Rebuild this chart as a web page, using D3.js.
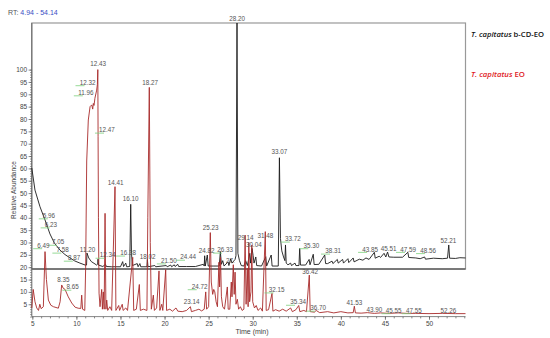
<!DOCTYPE html>
<html>
<head>
<meta charset="utf-8">
<script src="https://cdn.jsdelivr.net/npm/d3@7"></script>
<style>
  body { margin: 0; background: #fff; }
  svg text { font-family: "Liberation Sans", Arial, sans-serif; }
</style>
</head>
<body>
<svg class="chart" width="550" height="338"></svg>
<script>
// chromatogram traces, retention time (min) and relative abundance (%)
var blackTime = [4.94, 5.3, 5.87, 6.44, 7.0, 7.5, 8.14, 8.7, 9.28, 9.8, 10.4, 11.0, 11.15, 11.2, 11.4, 11.7, 12.3,
    12.42, 12.45, 12.5, 13.0, 13.3, 13.4, 14.0, 15.0, 15.25, 15.35, 15.6, 15.7, 16.05, 16.16, 16.25, 16.35,
    16.9, 17.0, 17.2, 17.3, 18.0, 18.05, 18.12, 18.9, 19.0, 20.2, 20.3, 20.7, 20.8, 21.1, 21.2, 21.5, 21.6,
    22.5, 23.5, 24.4, 24.5, 24.55, 24.62, 24.85, 24.95, 25.6, 26.2, 26.33, 26.45, 26.6, 26.75, 27.2, 27.3,
    27.5, 27.65, 28.0, 28.1, 28.22, 28.32, 28.5, 28.7, 29.0, 29.2, 29.4, 29.67, 29.75, 29.92, 30.05, 30.15,
    30.35, 30.45, 31.0, 31.48, 31.58, 32.1, 32.2, 32.9, 33.03, 33.15, 33.3, 33.5, 33.65, 33.72, 33.8, 34.0,
    34.3, 34.4, 34.8, 34.9, 35.25, 35.33, 35.42, 36.0, 36.4, 36.5, 36.87, 36.97, 37.5, 38.17, 38.27, 38.5,
    39.0, 39.1, 39.6, 39.7, 40.2, 40.3, 40.8, 40.9, 41.4, 41.5, 42.1, 42.5, 42.85, 43.2, 43.8, 43.9, 44.35,
    44.5, 44.9, 45.1, 45.3, 45.45, 46.0, 47.0, 47.6, 47.7, 48.5, 49.0, 49.5, 49.6, 50.5, 51.5, 52.1, 52.24,
    52.34, 53.0, 53.5, 54.14];
var blackAbund = [40.8, 31.8, 25.0, 19.6, 13.9, 10.2, 7.3, 5.5, 4.1, 2.9, 2.0, 1.2, 1.2, 6.1, 4.1, 2.6, 1.2,
    1.6, 3.6, 1.2, 0.6, 1.5, 0.6, 0.5, 0.5, 2.6, 0.6, 2.0, 0.5, 0.6, 26, 6, 1.0,
    1.8, 0.5, 1.8, 0.5, 0.5, 3.5, 0.5, 1.0, 0.5, 1.0, 0.5, 1.2, 0.5, 1.3, 0.6, 1.5, 0.6,
    0.6, 0.6, 1.5, 0.8, 5, 0.8, 5.3, 0.8, 0.8, 0.8, 6.7, 1.5, 3, 0.8, 2.5, 1.0,
    3.7, 2, 3.5, 5, 100, 6, 3, 1, 0.8, 3, 1, 6, 2, 8, 5, 2,
    4.5, 1, 0.8, 4.6, 0.8, 5.3, 0.8, 0.8, 45, 12, 7, 4.5, 3, 9.4, 2, 1.3,
    2, 1, 2, 1, 1, 8, 1.2, 1.2, 3.5, 1.3, 5.6, 1.4, 1.5, 5.3, 1.8, 1.8,
    2.8, 1.8, 3.5, 2, 3.5, 2, 3.8, 2.2, 4.1, 2.5, 3.6, 3.2, 4.1, 3.5, 6.4, 4, 4.8,
    4.3, 6, 4.5, 6.5, 4.5, 4.4, 4.4, 6.4, 4.3, 4.1, 3.8, 4.5, 3.6, 4, 3.8, 4.0, 9.4,
    4, 3.9, 4.2, 4.1];

var redTime = [4.94, 5.1, 5.3, 5.5, 5.7, 5.85, 6.0, 6.25, 6.44, 6.6, 6.82, 7.1, 7.4, 7.95, 8.15, 8.33, 8.5,
    8.71, 9.08, 9.47, 9.85, 10.2, 10.5, 10.6, 10.7, 10.95, 11.05, 11.17, 11.35, 11.55, 11.74, 11.85, 11.92,
    12.0, 12.1, 12.3, 12.38, 12.43, 12.46, 12.5, 12.57, 12.68, 12.87, 12.95, 13.05, 13.15, 13.25, 13.35,
    13.44, 13.55, 13.8, 14.0, 14.38, 14.48, 14.8, 14.9, 15.2, 15.3, 15.6, 15.8, 16.39, 16.5, 16.8, 17.14,
    17.25, 17.6, 18.0, 18.1, 18.27, 18.38, 18.5, 18.73, 18.85, 19.1, 19.37, 19.47, 19.68, 19.8, 20.13, 20.23,
    20.6, 20.9, 21.3, 21.5, 22.0, 22.5, 22.93, 23.05, 23.5, 23.9, 24.2, 24.5, 24.67, 24.77, 25.0, 25.19, 25.3,
    25.46, 25.58, 25.7, 25.85, 26.0, 26.17, 26.25, 26.35, 26.45, 26.6, 26.8, 27.12, 27.22, 27.4, 27.57,
    27.65, 27.8, 27.9, 28.0, 28.1, 28.26, 28.4, 28.6, 28.8, 29.0, 29.14, 29.25, 29.39, 29.48, 29.56, 29.65,
    29.8, 29.9, 30.0, 30.2, 30.4, 30.6, 30.9, 31.1, 31.43, 31.53, 31.8, 32.19, 32.29, 32.6, 33.0, 33.4, 33.8,
    34.3, 34.5, 34.9, 35.22, 35.35, 35.8, 36.1, 36.42, 36.52, 37.0, 37.2, 37.6, 38.5, 39.2, 40.0, 40.8, 41.4,
    41.53, 41.65, 42.3, 43.0, 43.8, 44.5, 45.5, 46.5, 47.5, 48.5, 50.0, 51.5, 53.0, 54.14];
var redAbund = [3.5, 11, 6, 3.5, 2.5, 5, 3.2, 4, 26.3, 15, 6.7, 4.6, 4.0, 3.4, 6, 12.8, 11.5,
    11, 8, 5.5, 3.8, 3.4, 3.3, 8.7, 3, 2.5, 20, 63, 79.6, 85, 85.7, 84, 86.3,
    85.5, 88.4, 91.7, 94, 100, 73, 40, 9.5, 4, 11, 3, 10, 3, 41.8, 3,
    6.7, 2.5, 4, 2.5, 52.6, 2.5, 4.5, 2.5, 5, 2.5, 3.5, 2.5, 24, 2.5, 3, 13,
    2.5, 3, 2.5, 40, 92.8, 30, 3, 8.7, 2.5, 3.5, 18.5, 2.5, 5, 2.5, 19, 2.5,
    3, 2.2, 3.5, 2.2, 2, 2.5, 4, 2, 2.5, 3, 2.3, 3, 10, 3, 4, 34, 14,
    9, 11, 10, 6, 4, 22, 12, 24, 8, 4, 3, 12, 3, 3, 14,
    8, 21, 9, 18, 5, 7, 3, 4, 2.5, 3, 33, 5, 19.6, 4, 30, 6,
    10, 29, 6, 3.5, 4.5, 2.5, 3.5, 2.2, 34.4, 2.5, 2.8, 9.4, 2.2, 2.8, 2.2, 3, 2.2,
    3.5, 2, 2.8, 4.5, 2, 2.5, 2, 16.8, 2, 1.8, 2.5, 1.6, 2, 1.5, 2, 1.5, 1.6,
    4.2, 1.5, 1.4, 1.6, 1.3, 1.5, 1.3, 1.5, 1.3, 1.3, 1.2, 1.3, 1.2, 1.2];

// peak annotations: [text, label centre time, label height, leader line]
var blackLabels = [
    ['28.20', 28.22, 101.6, 0], ['5.96', 6.89, 21.3, 1], ['6.23', 7.10, 17.6, 1], ['7.05', 7.92, 10.5, 1],
    ['7.58', 8.43, 7.3, 1], ['8.87', 9.73, 4.0, 1], ['11.20', 11.26, 7.3, 0], ['12.34', 13.53, 5.2, 1],
    ['16.10', 16.16, 28.2, 0], ['16.38', 15.86, 6.1, 1], ['18.02', 18.07, 4.6, 0], ['21.50', 20.49, 2.9, 1],
    ['24.44', 22.66, 4.4, 1], ['24.82', 24.78, 6.9, 0], ['26.33', 26.86, 7.3, 1], ['27.', 27.48, 3.0, 0],
    ['29.14', 29.19, 12.4, 0], ['30.04', 30.12, 9.4, 0], ['31.48', 31.45, 13.1, 0], ['33.07', 33.02, 47.5, 0],
    ['33.72', 34.55, 11.8, 1], ['35.30', 36.65, 9.1, 1], ['38.31', 39.11, 6.9, 1], ['43.85', 43.31, 7.6, 1],
    ['45.51', 45.41, 8.0, 0], ['47.59', 47.62, 7.6, 1], ['48.56', 49.89, 7.1, 1], ['52.21', 52.21, 11.1, 0]
];
var redLabels = [
    ['12.43', 12.45, 102.3, 0], ['12.32', 11.26, 94.7, 1], ['11.96', 11.07, 90.6, 1], ['18.27', 18.35, 94.7, 0],
    ['12.47', 13.47, 75.5, 1], ['14.41', 14.46, 54.2, 0], ['6.49', 6.25, 28.7, 1], ['8.35', 8.52, 14.8, 0],
    ['8.65', 9.56, 11.9, 1], ['23.14', 23.08, 5.8, 0], ['24.72', 23.99, 12.1, 1], ['25.23', 25.22, 36.0, 0],
    ['32.15', 32.70, 10.8, 1], ['35.34', 35.14, 5.8, 1], ['36.42', 36.50, 18.2, 0], ['36.70', 37.41, 3.4, 1],
    ['41.53', 41.53, 5.4, 0], ['43.90', 43.80, 2.7, 0], ['45.55', 45.98, 2.4, 1], ['47.55', 48.27, 2.4, 1],
    ['52.26', 52.21, 2.3, 0]
];

var xMajorTicks = [5, 10, 15, 20, 25, 30, 35, 40, 45, 50];
var yMajorTicks = [5, 10, 15, 20, 25, 30, 35, 40, 45, 50, 55, 60, 65, 70, 75, 80, 85, 90, 95, 100];

var svg = d3.select('.chart');

var x = d3.scaleLinear().domain([4.94, 54.14]).range([31.8, 465.5]);
var yRed = d3.scaleLinear().domain([0, 100]).range([316.6, 69.6]);
var yBlack = d3.scaleLinear().domain([0, 100]).range([268, 23]);

// header
var rt = svg.append('text').attr('x', 8).attr('y', 15).style('font-size', '7px');
rt.append('tspan').attr('fill', '#555').text('RT: ');
rt.append('tspan').attr('fill', '#3a4fc4').text('4.94 - 54.14');

// box round the upper trace
svg.append('rect')
    .attr('x', x.range()[0]).attr('y', yBlack.range()[1])
    .attr('width', x.range()[1] - x.range()[0])
    .attr('height', yBlack.range()[0] + 1 - yBlack.range()[1])
    .attr('fill', 'none').attr('stroke', '#999').attr('stroke-width', 1.2);
svg.append('line')
    .attr('x1', x.range()[0]).attr('x2', x.range()[1])
    .attr('y1', yBlack(0) + 1).attr('y2', yBlack(0) + 1)
    .attr('stroke', '#222').attr('stroke-width', 0.9);

// axes
function axisStyle(g) {
    g.select('.domain').remove();
    g.selectAll('line').attr('stroke', '#555').attr('stroke-width', 0.7);
    g.selectAll('text').attr('fill', '#444').style('font-size', '6.5px')
        .style('font-family', '"Liberation Sans", Arial, sans-serif');
}
svg.append('g').attr('transform', 'translate(' + x.range()[0] + ',0)')
    .call(d3.axisLeft(yRed).tickValues(d3.range(0, 101, 1)).tickSize(1.6).tickFormat(''))
    .call(axisStyle);
svg.append('g').attr('transform', 'translate(' + x.range()[0] + ',0)')
    .call(d3.axisLeft(yRed).tickValues(yMajorTicks).tickSize(3.2).tickPadding(1.5))
    .call(axisStyle);
svg.append('g').attr('transform', 'translate(0,' + yRed(0) + ')')
    .call(d3.axisBottom(x).tickValues(d3.range(5, 55, 1)).tickSize(1.8).tickFormat(''))
    .call(axisStyle);
svg.append('g').attr('transform', 'translate(0,' + yRed(0) + ')')
    .call(d3.axisBottom(x).tickValues(xMajorTicks).tickSize(3.2).tickPadding(1.5))
    .call(axisStyle);
svg.append('line')
    .attr('x1', x.range()[0]).attr('x2', x.range()[0])
    .attr('y1', yBlack.range()[1]).attr('y2', yRed(0))
    .attr('stroke', '#666').attr('stroke-width', 1);
svg.append('line')
    .attr('x1', x.range()[0]).attr('x2', x.range()[1])
    .attr('y1', yRed(0)).attr('y2', yRed(0))
    .attr('stroke', '#666').attr('stroke-width', 0.8);

svg.append('text')
    .attr('transform', 'translate(16,190) rotate(-90)')
    .attr('text-anchor', 'middle').attr('fill', '#444').style('font-size', '6.5px')
    .text('Relative Abundance');
svg.append('text')
    .attr('x', 252).attr('y', 333.5)
    .attr('text-anchor', 'middle').attr('fill', '#444').style('font-size', '7px')
    .text('Time (min)');

// traces
function trace(times, values, y, color, width) {
    var line = d3.line()
        .x(function (d, i) { return x(times[i]); })
        .y(function (d) { return y(d); });
    svg.append('path')
        .attr('d', line(values))
        .attr('fill', 'none').attr('stroke', color)
        .attr('stroke-width', width).attr('stroke-linejoin', 'round');
}
trace(blackTime, blackAbund, yBlack, '#1b1b1b', 0.9);
trace(redTime, redAbund, yRed, '#a82a2a', 0.9);

// peak labels
function labels(list, y) {
    var g = svg.append('g').selectAll('g')
        .data(list)
        .enter().append('g')
            .attr('transform', function (d) { return 'translate(' + x(d[1]) + ',' + y(d[2]) + ')'; });
    g.filter(function (d) { return d[3]; }).append('line')
        .attr('x1', function (d) { return -d[0].length * 1.8 - 3; })
        .attr('x2', function (d) { return -d[0].length * 1.8 + 6; })
        .attr('y1', 3).attr('y2', 3)
        .attr('stroke', '#7ccf7c').attr('stroke-width', 0.8);
    g.append('text')
        .attr('text-anchor', 'middle').attr('dy', '0.35em')
        .attr('fill', '#555').style('font-size', '6.3px')
        .text(function (d) { return d[0]; });
}
labels(blackLabels, yBlack);
labels(redLabels, yRed);

// legend
var l1 = svg.append('text').attr('x', 471).attr('y', 37)
    .style('font-family', '"Open Sans", sans-serif').style('font-size', '7.2px').style('font-weight', 600)
    .attr('fill', '#111').attr('textLength', 73).attr('lengthAdjust', 'spacingAndGlyphs');
l1.append('tspan').style('font-style', 'italic').text('T. capitatus');
l1.append('tspan').text(' b-CD-EO');
var l2 = svg.append('text').attr('x', 471).attr('y', 77)
    .style('font-family', '"Open Sans", sans-serif').style('font-size', '7.2px').style('font-weight', 600)
    .attr('fill', '#e0201e').attr('textLength', 54).attr('lengthAdjust', 'spacingAndGlyphs');
l2.append('tspan').style('font-style', 'italic').text('T. capitatus');
l2.append('tspan').text(' EO');
</script>
</body>
</html>
